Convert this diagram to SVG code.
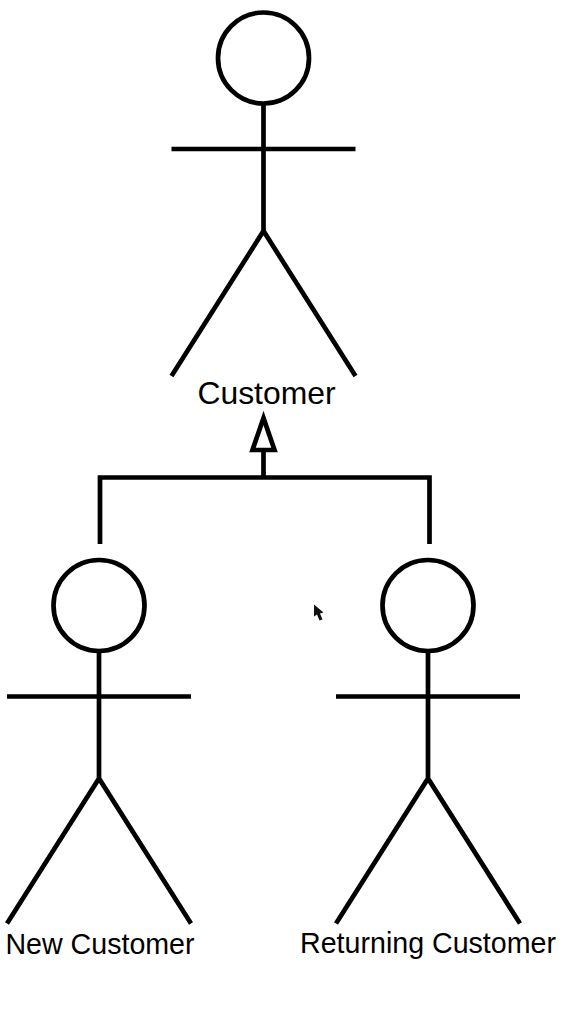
<svg xmlns="http://www.w3.org/2000/svg" width="573" height="1027" viewBox="0 0 573 1027">
<style>
.s{fill:none;stroke:#000;stroke-width:4.7}
.h{fill:#fff;stroke:#000;stroke-width:4.7}
text{font-family:"Liberation Sans",Arial,sans-serif;font-size:28.6px;fill:#000;text-anchor:middle}
.big{font-size:31.9px}
</style>
<defs>
<g id="actor">
<circle class="s" cx="0" cy="46" r="45.5"/>
<path class="s" d="M0 92V219M-92 137H92M-92 364L0 219L92 364"/>
</g>
</defs>
<rect width="573" height="1027" fill="#fff"/>
<g id="connectors">
<path class="s" d="M100 544V477.500H429.500V544M263.500 477.500V451"/>
<path class="h" d="M263.500 418L252.500 450H274.500Z"/>
</g>
<g id="customer">
<use href="#actor" x="263.500" y="12"/>
<text x="266.500" y="404" class="big">Customer</text>
</g>
<g id="new-customer">
<use href="#actor" x="99" y="559.500"/>
<text x="100" y="954">New Customer</text>
</g>
<g id="returning-customer">
<use href="#actor" x="428" y="559.500"/>
<text x="428" y="953">Returning Customer</text>
</g>
<path id="cursor" d="M314 604.500L314 616.500L317 614.500L319.500 620.500L322.500 619.500L320 613.500L323.500 612.500Z" fill="#111"/>
</svg>
